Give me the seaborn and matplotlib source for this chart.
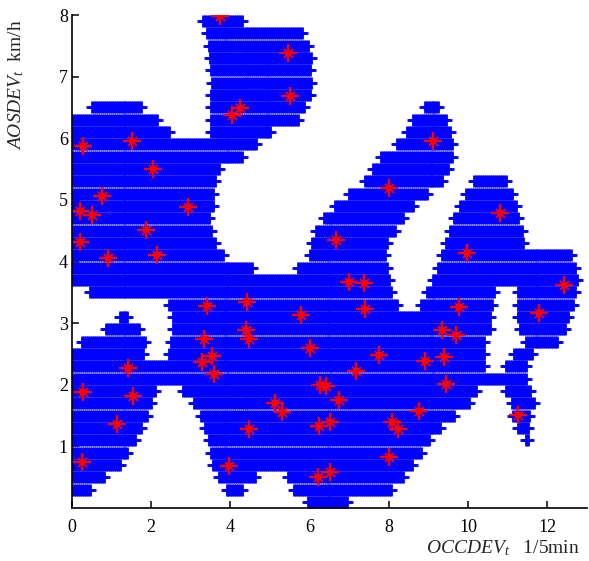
import numpy as np
import pandas as pd
import matplotlib
matplotlib.use("Agg")
import matplotlib.pyplot as plt
import seaborn as sns

# ---- data ----
# blue region: for each grid row (y), the x-intervals that are covered
row_y = [7.9, 7.7, 7.5, 7.3, 7.1, 6.9, 6.7, 6.5, 6.3, 6.1, 5.9, 5.7, 5.5, 5.3,
         5.1, 4.9, 4.7, 4.5, 4.3, 4.1, 3.9, 3.7, 3.5, 3.3, 3.1, 2.9, 2.7, 2.5,
         2.3, 2.1, 1.9, 1.7, 1.5, 1.3, 1.1, 0.9, 0.7, 0.5, 0.3, 0.1]
row_segments = [
    [(3.15, 4.45)],
    [(3.25, 5.95)],
    [(3.30, 6.10)],
    [(3.33, 6.18)],
    [(3.36, 6.18)],
    [(3.38, 6.20)],
    [(3.36, 6.18)],
    [(0.35, 1.90), (3.36, 6.05), (8.75, 9.40)],
    [(0.00, 2.30), (3.36, 5.90), (8.45, 9.60)],
    [(0.00, 2.62), (3.36, 5.20), (8.30, 9.70)],
    [(0.00, 4.80), (8.05, 9.75)],
    [(0.00, 4.45), (7.65, 9.75)],
    [(0.00, 3.85), (7.45, 9.65)],
    [(0.00, 3.75), (7.25, 9.50), (10.00, 11.10)],
    [(0.00, 3.72), (6.85, 9.10), (9.80, 11.25)],
    [(0.00, 3.70), (6.50, 8.75), (9.65, 11.35)],
    [(0.00, 3.62), (6.20, 8.50), (9.50, 11.42)],
    [(0.00, 3.65), (6.00, 8.30), (9.40, 11.50)],
    [(0.00, 3.75), (5.90, 8.10), (9.28, 11.55)],
    [(0.00, 3.95), (5.85, 8.07), (9.20, 12.75)],
    [(0.00, 4.70), (5.55, 8.10), (9.10, 12.88)],
    [(0.00, 8.15), (8.95, 12.90)],
    [(0.30, 8.20), (8.80, 10.80), (11.10, 12.85)],
    [(2.30, 8.35), (8.65, 10.75), (11.10, 12.80)],
    [(1.05, 1.55), (2.40, 10.72), (11.12, 12.70)],
    [(0.70, 1.85), (2.40, 10.70), (11.15, 12.60)],
    [(0.10, 2.00), (2.35, 10.56), (11.30, 12.40)],
    [(0.00, 1.95), (2.30, 10.56), (11.00, 11.75)],
    [(0.00, 10.56), (10.80, 11.64)],
    [(0.00, 11.64)],
    [(0.00, 2.25), (2.65, 10.35), (10.80, 11.70)],
    [(0.00, 2.15), (2.93, 10.20), (10.95, 11.80)],
    [(0.00, 2.05), (3.10, 9.80), (10.98, 11.72)],
    [(0.00, 1.90), (3.20, 9.45), (11.10, 11.68)],
    [(0.00, 1.75), (3.30, 9.15), (11.30, 11.65)],
    [(0.00, 1.55), (3.35, 8.95)],
    [(0.00, 1.35), (3.42, 8.75)],
    [(0.00, 0.95), (3.57, 4.80), (5.30, 8.50)],
    [(0.00, 0.60), (3.75, 4.45), (5.45, 8.20)],
    [(5.80, 7.10)],
]

# red sample points
pt_x = [3.74, 5.46, 5.50, 4.24, 4.05, 0.29, 1.51, 2.05, 9.12, 0.75, 0.20, 0.50,
        2.94, 1.87, 0.20, 0.90, 2.15, 8.00, 6.66, 10.81, 9.97, 6.98, 7.36, 12.42,
        3.40, 4.43, 5.77, 7.40, 9.77, 11.78, 4.39, 4.48, 3.32, 9.35, 9.70, 6.01,
        3.53, 3.27, 3.59, 1.42, 7.74, 8.90, 9.40, 7.17, 6.26, 6.41, 9.44, 0.29,
        1.55, 6.75, 5.13, 5.31, 8.75, 1.13, 4.48, 6.24, 6.52, 8.07, 8.24, 11.27,
        8.00, 0.24, 3.97, 6.22, 6.52]
pt_y = [7.99, 7.39, 6.68, 6.49, 6.37, 5.88, 5.96, 5.50, 5.96, 5.06, 4.82, 4.76,
        4.88, 4.51, 4.32, 4.05, 4.11, 5.19, 4.35, 4.78, 4.13, 3.66, 3.65, 3.62,
        3.28, 3.35, 3.13, 3.23, 3.26, 3.16, 2.89, 2.75, 2.75, 2.89, 2.80, 2.60,
        2.46, 2.37, 2.18, 2.27, 2.48, 2.39, 2.45, 2.23, 2.00, 1.98, 2.02, 1.89,
        1.82, 1.76, 1.71, 1.56, 1.58, 1.37, 1.28, 1.33, 1.40, 1.40, 1.28, 1.51,
        0.83, 0.74, 0.68, 0.51, 0.59]

x_ticks = [0, 2, 4, 6, 8, 10, 12]
y_ticks = [1, 2, 3, 4, 5, 6, 7, 8]

# ---- style ----
sns.set_theme(style="ticks")
plt.rcParams["font.family"] = ["Liberation Serif", "DejaVu Serif"]
plt.rcParams["mathtext.fontset"] = "custom"
plt.rcParams["mathtext.it"] = "Liberation Serif:italic"
plt.rcParams["mathtext.rm"] = "Liberation Serif"

# grid points filling the covered intervals (marker arms reach the edges)
grid_step = 0.05
inset = 0.15
bx, by = [], []
for y, segs in zip(row_y, row_segments):
    for a, b in segs:
        start = a + inset if a > 0 else a
        xs = np.arange(start, b - inset + 1e-9, grid_step)
        bx.extend(xs.tolist())
        by.extend([y] * len(xs))
region = pd.DataFrame({"x": bx, "y": by})
points = pd.DataFrame({"x": pt_x, "y": pt_y})

fig = plt.figure(figsize=(5.89, 5.61), dpi=100)
ax = fig.add_axes([72 / 589, 53 / 561, 515 / 589, 493 / 561])

sns.scatterplot(data=region, x="x", y="y", marker="+", s=8.7 ** 2,
                color="#0000ff", linewidth=2.0, ax=ax, legend=False,
                zorder=2)
sns.scatterplot(data=points, x="x", y="y", marker="+", s=12.5 ** 2,
                color="#ff0000", linewidth=1.7, ax=ax, legend=False, zorder=3)
sns.scatterplot(data=points, x="x", y="y", marker="x", s=6.5 ** 2,
                color="#ff0000", linewidth=1.3, ax=ax, legend=False, zorder=3)
sns.scatterplot(data=points, x="x", y="y", marker="s", s=4.0 ** 2,
                color="#ff0000", linewidth=0, ax=ax, legend=False, zorder=4)

ax.set_xlim(0, 13)
ax.set_ylim(0, 8)
ax.set_xticks(x_ticks)
ax.set_yticks(y_ticks)
ax.set_xticklabels([str(v) for v in x_ticks])
ax.set_yticklabels([str(v) for v in y_ticks])
sns.despine(ax=ax)
for side in ("left", "bottom"):
    ax.spines[side].set_linewidth(1.2)
    ax.spines[side].set_color("black")
    ax.spines[side].set_zorder(5)
ax.tick_params(axis="both", direction="in", length=5, width=1.1,
               color="black", labelsize=13, labelcolor="black")
ax.tick_params(axis="x", pad=8)
ax.tick_params(axis="y", pad=3)

ax.set_xlabel(r"$OCCDEV_t$   1/5min", fontsize=14, loc="right")
ax.xaxis.set_label_coords(0.987, -0.062)
ax.set_ylabel(r"$AOSDEV_t$  km/h", fontsize=14, loc="top")
ax.yaxis.set_label_coords(-0.09, 0.99)

fig.savefig("out.png", dpi=100)
